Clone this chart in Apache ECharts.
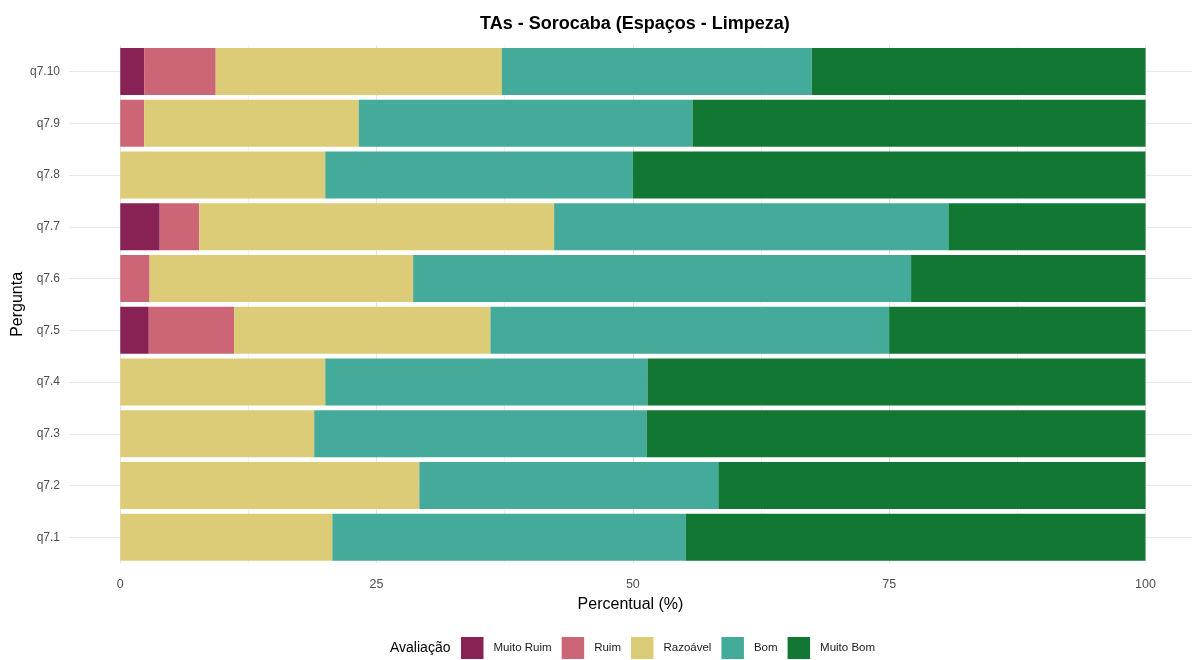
<!DOCTYPE html>
<html>
<head>
<meta charset="utf-8">
<script src="https://cdn.jsdelivr.net/npm/echarts@6/dist/echarts.min.js"></script>
<style>
html,body{margin:0;padding:0;background:#fff;}
#chart{width:1192px;height:660px;}
</style>
</head>
<body>
<div id="chart"></div>
<script>
// Data (percent), bottom-to-top order as ECharts draws categories
const categories = ['q7.1','q7.2','q7.3','q7.4','q7.5','q7.6','q7.7','q7.8','q7.9','q7.10'];
const seriesNames = ['Muito Ruim','Ruim','Razoável','Bom','Muito Bom'];
const muitoRuim = [0, 0, 0, 0, 2.78, 0, 3.85, 0, 0, 2.33];
const ruim      = [0, 0, 0, 0, 8.33, 2.86, 3.85, 0, 2.33, 6.98];
const razoavel  = [20.69, 29.17, 18.92, 20.00, 25.00, 25.71, 34.62, 20.00, 20.93, 27.91];
const bom       = [34.48, 29.17, 32.43, 31.43, 38.89, 48.57, 38.46, 30.00, 32.56, 30.23];
const muitoBom  = [44.83, 41.67, 48.65, 48.57, 25.00, 22.86, 19.23, 50.00, 44.19, 32.56];
const xTickLabels = [0, 25, 50, 75, 100];
const xMinorGrid = [12.5, 37.5, 62.5, 87.5];
const colors = ['#882255', '#CC6677', '#DDCC77', '#44AA99', '#117733'];

const seriesData = [muitoRuim, ruim, razoavel, bom, muitoBom];

const gridLines = [];
xTickLabels.forEach(v => gridLines.push({xAxis: v, lineStyle: {color: '#e4e4e4', width: 1, type: 'solid'}}));
xMinorGrid.forEach(v => gridLines.push({xAxis: v, lineStyle: {color: '#f0f0f0', width: 1, type: 'solid'}}));
categories.forEach(c => gridLines.push({yAxis: c, lineStyle: {color: '#e8e8e8', width: 1, type: 'solid'}}));

const chart = echarts.init(document.getElementById('chart'), null, {renderer: 'canvas'});
const series = seriesNames.map((name, i) => {
  const s = {
    name: name,
    type: 'bar',
    stack: 'total',
    data: seriesData[i],
    barCategoryGap: '9%',
    itemStyle: {color: colors[i]},
    z: 2,
    emphasis: {disabled: true}
  };
  if (i === 0) {
    s.markLine = {
      silent: true,
      z: 1,
      symbol: ['none', 'none'],
      label: {show: false},
      animation: false,
      data: gridLines
    };
  }
  return s;
});

chart.setOption({
  animation: false,
  backgroundColor: '#ffffff',
  textStyle: {fontFamily: 'Liberation Sans, Arial, sans-serif'},
  title: [
    {
      text: 'TAs - Sorocaba (Espaços - Limpeza)',
      left: 480, top: 15, padding: 0,
      textStyle: {fontSize: 18, fontWeight: 'bold', color: '#000', fontFamily: 'Liberation Sans, Arial, sans-serif'}
    },
    {
      text: 'Avaliação',
      left: 390, top: 641, padding: 0,
      textStyle: {fontSize: 14, fontWeight: 'normal', color: '#000', fontFamily: 'Liberation Sans, Arial, sans-serif'}
    }
  ],
  legend: {
    data: seriesNames,
    left: 461, top: 637, padding: 0,
    orient: 'horizontal',
    itemWidth: 22.5, itemHeight: 22, itemGap: 10,
    icon: 'rect',
    selectedMode: false,
    textStyle: {fontSize: 11.5, color: '#1a1a1a', padding: [0, 0, 0, 5], fontFamily: 'Liberation Sans, Arial, sans-serif'}
  },
  grid: {left: 69, right: 0, top: 45.6, height: 517.6, containLabel: false, outerBoundsMode: 'none'},
  xAxis: {
    type: 'value',
    min: -5, max: 104.54,
    name: 'Percentual (%)',
    nameLocation: 'middle',
    nameGap: 33,
    nameMoveOverlap: false,
    nameTextStyle: {fontSize: 16, color: '#000'},
    axisLine: {show: false},
    axisTick: {show: false},
    splitLine: {show: false},
    axisLabel: {customValues: xTickLabels, fontSize: 12.5, color: '#4d4d4d', margin: 15}
  },
  yAxis: {
    type: 'category',
    data: categories,
    name: 'Pergunta',
    nameLocation: 'middle',
    nameRotate: 90,
    nameGap: 43,
    nameMoveOverlap: false,
    nameTextStyle: {fontSize: 16, color: '#000'},
    axisLine: {show: false},
    axisTick: {show: false},
    splitLine: {show: false},
    axisLabel: {fontSize: 12, color: '#4d4d4d', margin: 9}
  },
  series: series
});
</script>
</body>
</html>
